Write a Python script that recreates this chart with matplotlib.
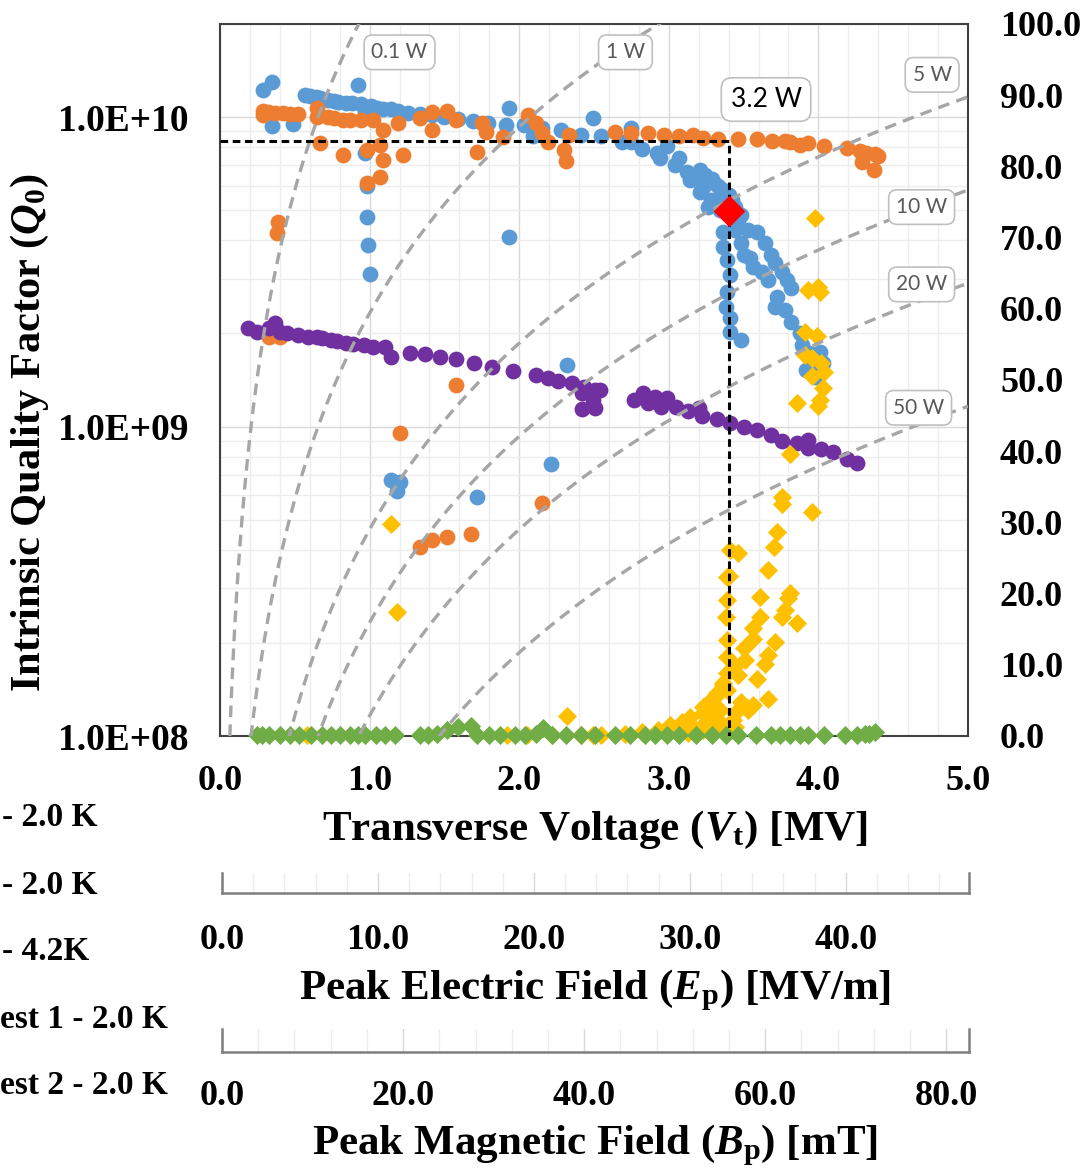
import numpy as np
import matplotlib.pyplot as plt
from matplotlib.ticker import FixedLocator, FuncFormatter, NullFormatter

plt.rcParams['font.family'] = 'Liberation Serif'
plt.rcParams['font.weight'] = 'bold'
plt.rcParams['mathtext.fontset'] = 'custom'
plt.rcParams['mathtext.rm'] = 'Liberation Serif:bold'
plt.rcParams['mathtext.it'] = 'Liberation Serif:italic:bold'
plt.rcParams['mathtext.bf'] = 'Liberation Serif:bold'

# --- measured data: transverse voltage [MV] vs intrinsic Q0 ---
blue_v = [0.29, 0.35, 0.35, 0.49, 0.57, 0.60, 0.64, 0.67, 0.72, 0.76, 0.79, 0.84, 0.88, 0.92, 0.94,
          0.97, 1.01, 1.05, 1.09, 1.14, 1.19, 1.26, 1.34, 1.42, 1.50, 1.59, 1.69, 1.79, 1.91, 1.93,
          2.03, 2.09, 2.15, 2.28, 2.41, 2.49, 2.55, 2.69, 2.75, 2.75, 2.82, 2.92, 2.94, 2.99, 3.04,
          3.07, 3.12, 3.14, 3.20, 3.23, 3.21, 3.30, 3.28, 3.32, 3.36, 3.38, 3.26, 3.34, 3.44, 3.48,
          3.21, 3.24, 3.29, 3.33, 3.40, 3.42, 3.46,
          3.36, 3.44, 3.53, 3.59, 3.36, 3.48, 3.50, 3.54, 3.64, 3.39, 3.68, 3.56, 3.71, 3.41, 3.62,
          3.76, 3.66, 3.79, 3.82, 3.39, 3.72, 3.38, 3.71, 3.78, 3.41, 3.82, 3.41, 3.48, 3.88, 3.89,
          3.94, 4.01, 4.03, 3.92, 3.98, 4.02, 3.99,
          0.97, 0.98, 0.98, 0.99, 1.00, 1.93, 2.32, 2.21, 1.72, 1.14, 1.20, 1.18]
blue_q = [1.22e10, 1.30e10, 9.35e9, 9.5e9, 1.18e10, 1.17e10, 1.16e10, 1.15e10, 1.14e10, 1.13e10,
          1.12e10, 1.11e10, 1.11e10, 1.27e10, 1.10e10, 1.04e10, 1.09e10, 1.07e10, 1.06e10, 1.06e10,
          1.045e10, 1.03e10, 1.02e10, 1.015e10, 1.0e10, 9.85e9, 9.7e9, 9.57e9, 9.4e9, 1.07e10,
          9.4e9, 8.69e9, 9.2e9, 9.08e9, 8.75e9, 9.9e9, 8.69e9, 8.3e9, 9.2e9, 8.3e9, 7.88e9, 7.65e9,
          7.37e9, 8.06e9, 7.0e9, 7.37e9, 6.64e9, 6.25e9, 6.4e9, 5.94e9, 5.73e9, 6.12e9, 5.39e9,
          5.39e9, 5.81e9, 5.12e9, 5.12e9, 5.01e9, 5.12e9, 4.83e9,
          6.75e9, 6.5e9, 6.3e9, 6.0e9, 5.6e9, 5.4e9, 4.6e9,
          4.25e9, 4.32e9, 4.32e9, 4.25e9, 3.80e9, 3.92e9, 3.58e9, 3.50e9, 3.92e9, 3.45e9, 3.58e9,
          3.27e9, 3.37e9, 3.09e9, 3.16e9, 3.16e9, 2.97e9, 2.97e9, 2.80e9, 2.72e9, 2.62e9, 2.43e9,
          2.43e9, 2.38e9, 2.24e9, 2.18e9, 2.02e9, 1.90e9, 2.00e9, 1.83e9, 1.73e9, 1.74e9, 1.60e9,
          1.52e9, 1.45e9, 1.56e9, 1.68e9,
          7.65e9, 5.98e9, 4.75e9, 3.86e9, 3.11e9, 4.10e9, 1.58e9, 7.57e8, 5.92e8, 6.71e8, 6.62e8,
          6.19e8]

orange_v = [0.29, 0.29, 0.32, 0.37, 0.42, 0.47, 0.52, 0.65, 0.65, 0.67, 0.72, 0.76, 0.82, 0.82,
            0.87, 0.94, 0.98, 0.98, 1.02, 1.07, 1.09, 1.09, 1.07, 1.19, 1.22, 1.34, 1.42, 1.42,
            1.52, 1.58, 1.72, 1.75, 1.78, 1.89, 2.06, 2.11, 2.15, 2.19, 2.30, 2.31, 2.33, 2.64,
            2.75, 2.86, 2.97, 3.07, 3.16, 3.23, 3.33, 3.46, 3.59, 3.69, 3.78, 3.81, 3.88, 3.93,
            4.04, 4.19, 4.28, 4.32, 4.38, 4.40, 4.29, 4.37,
            0.39, 0.38, 1.58, 1.20, 1.34, 1.42, 1.52, 1.68, 2.15, 0.33, 0.40]
orange_q = [1.05e10, 1.015e10, 1.04e10, 1.03e10, 1.03e10, 1.02e10, 1.02e10, 1.07e10, 1.0e10,
            8.24e9, 1.0e10, 9.9e9, 9.8e9, 7.54e9, 9.8e9, 9.8e9, 7.82e9, 6.12e9, 9.8e9, 8.12e9,
            9.08e9, 7.26e9, 6.4e9, 9.57e9, 7.54e9, 9.9e9, 1.04e10, 9.08e9, 1.05e10, 9.8e9, 7.71e9,
            9.6e9, 8.94e9, 8.62e9, 1.015e10, 9.57e9, 8.88e9, 8.3e9, 7.82e9, 7.21e9, 8.75e9,
            8.97e9, 8.88e9, 8.88e9, 8.75e9, 8.69e9, 8.75e9, 8.55e9, 8.49e9, 8.49e9, 8.49e9,
            8.37e9, 8.37e9, 8.3e9, 8.12e9, 8.24e9, 8.06e9, 7.94e9, 7.77e9, 7.65e9, 7.6e9, 7.48e9,
            7.16e9, 6.75e9,
            4.58e9, 4.22e9, 1.36e9, 9.53e8, 4.08e8, 4.30e8, 4.40e8, 4.50e8, 5.66e8, 1.95e9, 1.95e9]

purple_v = [0.19, 0.25, 0.33, 0.37, 0.40, 0.45, 0.52, 0.59, 0.65, 0.68, 0.74, 0.78, 0.84, 0.89,
            0.96, 1.02, 1.10, 1.14, 1.27, 1.37, 1.47, 1.58, 1.70, 1.82, 1.96, 2.11, 2.19, 2.26,
            2.35, 2.43, 2.42, 2.51, 2.54, 2.49, 2.42, 2.51, 2.77, 2.83, 2.91, 2.86, 2.99, 2.95,
            3.05, 3.13, 3.20, 3.22, 3.32, 3.41, 3.50, 3.59, 3.68, 3.76, 3.86, 3.93, 3.93, 4.02,
            4.10, 4.19, 4.26]
purple_q = [2.08e9, 2.02e9, 2.08e9, 2.16e9, 2.02e9, 2.00e9, 1.98e9, 1.95e9, 1.95e9, 1.93e9,
            1.90e9, 1.89e9, 1.86e9, 1.85e9, 1.83e9, 1.81e9, 1.81e9, 1.68e9, 1.73e9, 1.71e9,
            1.68e9, 1.65e9, 1.60e9, 1.56e9, 1.51e9, 1.47e9, 1.44e9, 1.40e9, 1.38e9, 1.34e9,
            1.28e9, 1.31e9, 1.31e9, 1.22e9, 1.14e9, 1.15e9, 1.22e9, 1.28e9, 1.25e9, 1.19e9,
            1.24e9, 1.16e9, 1.16e9, 1.12e9, 1.15e9, 1.08e9, 1.06e9, 1.03e9, 9.96e8, 9.75e8,
            9.39e8, 8.97e8, 8.85e8, 9.04e8, 8.53e8, 8.46e8, 8.27e8, 7.85e8, 7.62e8]

# radiation readings on the right-hand scale
yellow_v = [1.14, 1.18, 0.58, 2.32, 1.92, 2.05, 2.22, 2.41, 2.49, 2.55, 2.71, 2.82, 2.93, 3.01,
            3.09, 3.14, 3.23, 3.28, 3.32, 3.36, 3.39, 3.39, 3.39, 3.38, 3.39, 3.39, 3.41,
            3.81, 3.76, 3.76, 3.96, 3.72, 3.70, 3.46, 3.66, 3.40, 3.81, 3.80, 3.61, 3.78, 3.76,
            3.61, 3.86, 3.56, 3.56, 3.71, 3.50, 3.66, 3.51, 3.64, 3.44, 3.46, 3.59, 3.36, 3.39,
            3.31, 3.66, 3.48, 3.56, 3.53, 3.28, 3.34, 3.44, 3.23, 3.30, 3.43, 3.24, 3.36, 3.44,
            3.23, 3.30, 3.18, 3.13,
            3.98, 3.93, 4.00, 4.01, 3.91, 3.99, 3.91, 3.96, 4.02, 4.04, 3.96, 4.03, 3.86, 4.01,
            4.00]
yellow_r = [29.8, 17.4, 0.1, 2.8, 0.1, 0.1, 0.1, 0.1, 0.1, 0.1, 0.3, 0.6, 0.8, 1.5,
            2.0, 2.7, 4.1, 5.1, 6.0, 7.4, 8.8, 11.1, 13.5, 16.7, 19.1, 22.3, 26.1,
            39.6, 33.6, 32.6, 31.5, 28.7, 26.5, 25.7, 23.3, 22.5, 20.1, 19.4, 19.5, 17.7, 16.7,
            16.7, 15.9, 15.2, 13.6, 13.2, 12.4, 11.4, 10.7, 10.1, 9.8, 8.6, 8.0, 7.2, 6.5,
            5.5, 5.2, 4.8, 4.4, 3.7, 3.9, 3.7, 3.2, 3.2, 2.5, 2.2, 1.8, 1.5, 1.3,
            0.8, 1.1, 0.8, 0.4,
            72.8, 62.6, 63.1, 62.4, 56.7, 56.2, 53.5, 53.1, 52.4, 51.1, 50.6, 48.9, 46.8, 47.2,
            46.3]

green_v = [0.25, 0.28, 0.33, 0.40, 0.47, 0.53, 0.61, 0.68, 0.74, 0.80, 0.87, 0.92, 0.97, 1.04,
           1.10, 1.17, 1.34, 1.39, 1.45, 1.52, 1.59, 1.68, 1.72, 1.80, 1.87, 1.97, 2.04, 2.11,
           2.16, 2.22, 2.31, 2.41, 2.51, 2.64, 2.74, 2.84, 2.91, 2.99, 3.07, 3.18, 3.29, 3.38,
           3.46, 3.58, 3.68, 3.74, 3.81, 3.88, 3.93, 4.04, 4.18, 4.26, 4.31, 4.34, 4.38]
green_r = [0.1, 0.1, 0.1, 0.1, 0.1, 0.1, 0.1, 0.1, 0.1, 0.1, 0.1, 0.1, 0.1, 0.1,
           0.1, 0.1, 0.1, 0.1, 0.3, 0.8, 1.3, 1.4, 0.2, 0.1, 0.1, 0.1, 0.1, 0.3,
           1.1, 0.2, 0.1, 0.1, 0.1, 0.1, 0.1, 0.2, 0.1, 0.1, 0.1, 0.1, 0.1, 0.1,
           0.1, 0.1, 0.1, 0.1, 0.1, 0.1, 0.1, 0.1, 0.1, 0.2, 0.3, 0.3, 0.6]

spec_v = [3.40]
spec_q = [4.97e9]

legend_labels = ['- 2.0 K', '- 2.0 K', '- 4.2K', 'est 1 - 2.0 K', 'est 2 - 2.0 K']

# constant dissipated power lines, Q0 = Vt^2 / ((R/Q) * P)
r_over_q = 430.0
power_levels = [0.1, 1, 5, 10, 20, 50]
power_labels = ['0.1 W', '1 W', '5 W', '10 W', '20 W', '50 W']
label_v = [1.20, 2.71, 4.76, 4.69, 4.69, 4.67]
label_q = [1.62e10, 1.62e10, 1.37e10, 5.12e9, 2.88e9, 1.15e9]
op_power = 3.2
op_voltage = 3.40

ep_max = 47.9
bp_max = 82.5

W, H = 1086, 1172


def px_box(x0, y0, x1, y1):
    return [x0 / W, 1 - y1 / H, (x1 - x0) / W, (y1 - y0) / H]


fig = plt.figure(figsize=(W / 100, H / 100), dpi=100)
ax = fig.add_axes(px_box(220, 24, 968, 736))
ax.set_xlim(0, 5)
ax.set_yscale('log')
ax.set_ylim(1e8, 2e10)

ax.xaxis.set_major_locator(FixedLocator(np.arange(0, 5.01, 1.0)))
ax.xaxis.set_minor_locator(FixedLocator(np.arange(0, 5.01, 0.2)))
ax.yaxis.set_major_locator(FixedLocator([1e8, 1e9, 1e10]))
ax.yaxis.set_minor_locator(FixedLocator([m * 10.0 ** e for e in (8, 9, 10) for m in range(2, 10)]))
ax.yaxis.set_minor_formatter(NullFormatter())
ax.xaxis.set_major_formatter(FuncFormatter(lambda v, p: '%.1f' % v))
ax.yaxis.set_major_formatter(FuncFormatter(lambda v, p: '1.0E+%02d' % round(np.log10(v))))
ax.grid(which='major', color='#D9D9D9', lw=1.0)
ax.grid(which='minor', color='#EDEDED', lw=1.0)
ax.set_axisbelow(True)
ax.tick_params(which='both', length=0)
ax.tick_params(axis='x', labelsize=26, pad=21)
ax.tick_params(axis='y', labelsize=27, pad=23)
for s in ax.spines.values():
    s.set_color('#404040')
    s.set_linewidth(1.5)

ax.scatter(blue_v, blue_q, s=130, color='#5B9BD5', lw=0, zorder=3)
ax.scatter(orange_v, orange_q, s=130, color='#ED7D31', lw=0, zorder=3)
ax.scatter(purple_v, purple_q, s=130, color='#7030A0', lw=0, zorder=3)

ax2 = ax.twinx()
ax2.set_ylim(0, 100)
ax2.yaxis.set_major_locator(FixedLocator(np.arange(0, 100.1, 10)))
ax2.yaxis.set_major_formatter(FuncFormatter(lambda v, p: '%.1f' % v))
ax2.tick_params(length=0, labelsize=26, pad=23)
for s in ax2.spines.values():
    s.set_visible(False)

ax2.scatter(yellow_v, yellow_r, s=95, marker='D', color='#FFC000', lw=0, zorder=3, clip_on=False)
ax2.scatter(green_v, green_r, s=95, marker='D', color='#70AD47', lw=0, zorder=4, clip_on=False)

# power lines and the operating point, drawn in Q0 coordinates on top
vv = np.linspace(0.01, 5, 400)
for p in power_levels:
    ax2.plot(vv, (vv * 1e6) ** 2 / (r_over_q * p), transform=ax.transData, color='#A6A6A6',
             lw=2.4, dashes=(3.5, 2.2), zorder=5)
op_q = (op_voltage * 1e6) ** 2 / (r_over_q * op_power)
ax2.plot([0, op_voltage, op_voltage], [op_q, op_q, 1e8], transform=ax.transData, color='black',
         lw=2.2, dashes=(2.5, 1.5), zorder=6)
ax2.scatter(spec_v, spec_q, s=260, marker='D', color='#FF0000', lw=0, zorder=7,
            transform=ax.transData)

box = dict(boxstyle='round,pad=0.35,rounding_size=0.4', fc='white', ec='#BFBFBF', lw=1.2)
for lv, lq, txt in zip(label_v, label_q, power_labels):
    ax2.text(lv, lq, txt, transform=ax.transData, ha='center', va='center', fontsize=15,
             family='Lato', weight='normal', color='#595959', bbox=box, zorder=8)
ax2.text(3.65, 1.14e10, '%.1f W' % op_power, transform=ax.transData, ha='center', va='center',
         fontsize=19, family='Lato', weight='normal', color='black', bbox=box, zorder=8)
ax2.set_xlim(0, 5)
ax2.set_ylim(0, 100)

fig.text(595 / W, 1 - 830 / H, r'Transverse Voltage ($\it{V}_{\rm t}$) [MV]', ha='center',
         va='center', fontsize=31)
fig.text(30 / W, 1 - 433 / H, r'Intrinsic Quality Factor ($\it{Q}_{\rm 0}$)', ha='center',
         va='center', fontsize=30.5, rotation=90)


def field_axis(y0, y1, xmax, major, minor, label, label_y, pad):
    a = fig.add_axes(px_box(222, y0, 969, y1))
    a.set_xlim(0, xmax)
    a.set_ylim(0, 1)
    a.set_yticks([])
    a.xaxis.set_major_locator(FixedLocator(np.arange(0, xmax, major)))
    a.xaxis.set_minor_locator(FixedLocator(np.arange(0, xmax, minor)))
    a.xaxis.set_major_formatter(FuncFormatter(lambda v, p: '%.1f' % v))
    a.grid(which='major', axis='x', color='#D9D9D9', lw=1.0)
    a.grid(which='minor', axis='x', color='#EDEDED', lw=1.0)
    a.tick_params(which='both', length=0)
    a.tick_params(axis='x', labelsize=26, pad=pad)
    a.spines['top'].set_visible(False)
    for k in ('left', 'right', 'bottom'):
        a.spines[k].set_color('#7F7F7F')
        a.spines[k].set_linewidth(1.8)
    fig.text(595 / W, 1 - label_y / H, label, ha='center', va='center', fontsize=31)
    return a


field_axis(873, 893, ep_max, 10, 2, r'Peak Electric Field ($\it{E}_{\rm p}$) [MV/m]', 990, 22)
field_axis(1029, 1052, bp_max, 20, 4, r'Peak Magnetic Field ($\it{B}_{\rm p}$) [mT]', 1145, 20)

legend_x = [2, 2, 2, 0, 0]
for i, lab in enumerate(legend_labels):
    fig.text(legend_x[i] / W, 1 - (818 + 67 * i) / H, lab, ha='left', va='center', fontsize=24)

fig.savefig('out.png', dpi=100)
